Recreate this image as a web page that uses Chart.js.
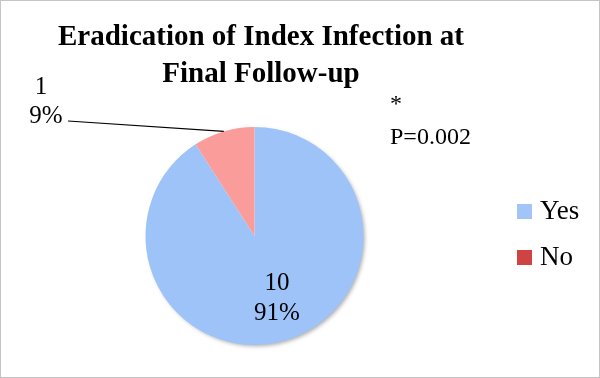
<!DOCTYPE html>
<html><head><meta charset="utf-8">
<script src="https://cdn.jsdelivr.net/npm/chart.js@4/dist/chart.umd.min.js"></script>
<style>
html,body{margin:0;padding:0;background:#fff;}
#wrap{position:relative;width:598px;height:376px;border:1px solid #c4c4c4;}
canvas{display:block;}
</style></head>
<body><div id="wrap"><canvas id="c" width="598" height="376"></canvas></div>
<script>
const categories = ["Yes", "No"];
const counts = [10, 1];
const percents = ["91%", "9%"];
const sliceColors = ["#9DC3F9", "#F99C9A"];
const legendColors = ["#A3C4F7", "#D04343"];
const titleLines = ["Eradication of Index Infection at", "Final Follow-up"];
const annotation = ["*", "P=0.002"];

const SERIF = "'Liberation Serif', 'DejaVu Serif', serif";

const overlay = {
  id: 'overlay',
  beforeDatasetsDraw(chart) {
    const ctx = chart.ctx;
    ctx.save();
    ctx.shadowColor = 'rgba(0,0,0,0.35)';
    ctx.shadowBlur = 4;
    ctx.shadowOffsetX = 2;
    ctx.shadowOffsetY = 2;
    const arc = chart.getDatasetMeta(0).data[0];
    ctx.beginPath();
    ctx.arc(arc.x, arc.y, arc.outerRadius - 1, 0, Math.PI * 2);
    ctx.fillStyle = '#fff';
    ctx.fill();
    ctx.restore();
  },
  afterDraw(chart) {
    const ctx = chart.ctx;
    const meta = chart.getDatasetMeta(0);
    ctx.save();
    // title
    ctx.fillStyle = '#000';
    ctx.textAlign = 'center';
    ctx.textBaseline = 'middle';
    ctx.font = "bold 29px " + SERIF;
    ctx.fillText(titleLines[0], 260, 37);
    ctx.fillText(titleLines[1], 260, 74);
    // inside label for Yes
    ctx.font = "25px " + SERIF;
    ctx.fillText(String(counts[0]), 276, 282);
    ctx.fillText(percents[0], 276, 312);
    // outside label for No
    ctx.fillText(String(counts[1]), 40, 86);
    ctx.fillText(percents[1], 45, 115);
    const a1 = meta.data[1];
    const mid = (a1.startAngle + a1.endAngle) / 2;
    const ex = a1.x + Math.cos(mid) * a1.outerRadius;
    const ey = a1.y + Math.sin(mid) * a1.outerRadius;
    ctx.beginPath();
    ctx.moveTo(67, 120);
    ctx.lineTo(ex, ey);
    ctx.strokeStyle = '#000';
    ctx.lineWidth = 1.2;
    ctx.stroke();
    // annotation
    ctx.textAlign = 'left';
    ctx.font = "24px " + SERIF;
    ctx.fillText(annotation[0], 389, 104);
    ctx.fillText(annotation[1], 389, 137);
    // legend
    ctx.font = "27px " + SERIF;
    const ly = [211, 257];
    categories.forEach((c, i) => {
      ctx.fillStyle = legendColors[i];
      ctx.fillRect(516, ly[i] - 8, 15, 15);
      ctx.fillStyle = '#000';
      ctx.fillText(c, 539, ly[i]);
    });
    ctx.restore();
  }
};

new Chart(document.getElementById('c'), {
  type: 'pie',
  data: {
    labels: categories,
    datasets: [{
      data: counts,
      backgroundColor: sliceColors,
      borderWidth: 0
    }]
  },
  options: {
    responsive: false,
    animation: false,
    layout: { padding: { left: 144, right: 235, top: 126, bottom: 32 } },
    plugins: { legend: { display: false }, title: { display: false }, tooltip: { enabled: false } }
  },
  plugins: [overlay]
});
</script></body></html>
